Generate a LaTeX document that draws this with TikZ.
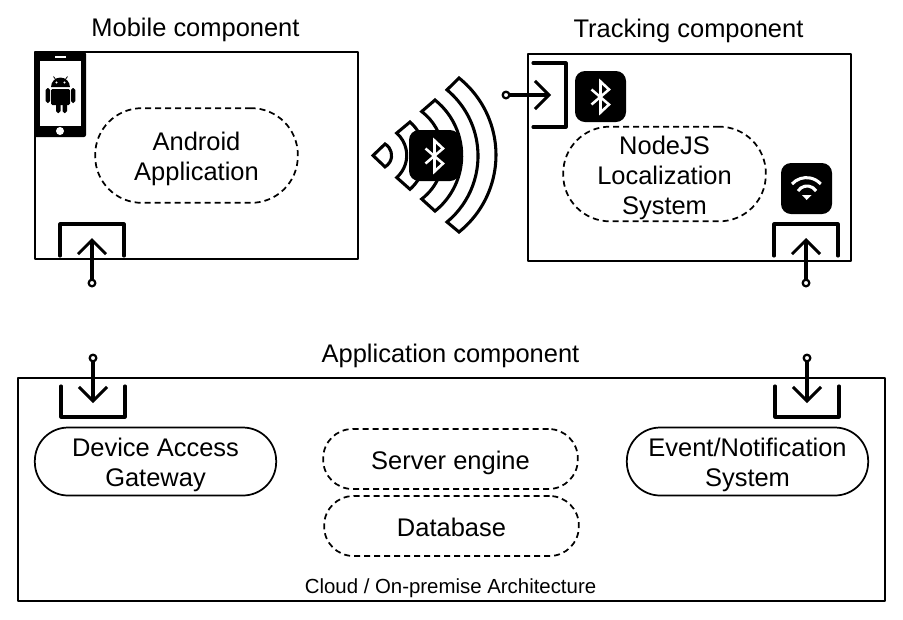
\documentclass[tikz,border=0pt]{standalone}
\usepackage{fontspec}
\setmainfont{Liberation Sans}
\usetikzlibrary{arrows.meta}
\tikzset{
	compbox/.style={draw, line width=1.5pt},
	pill/.style={draw, line width=1.3pt, rounded corners=#1, inner sep=0pt, align=center},
	dashpill/.style={pill=#1, dash pattern=on 4.5pt off 3pt},
	bigtext/.style={font=\fontsize{19.1}{22.5}\selectfont, align=center, execute at begin node={\rule[-4pt]{0pt}{23pt}}},
	bracket/.style={draw, line width=2.3pt, line cap=round},
	portdot/.style={circle, draw, fill=white, line width=1.7pt, minimum size=5pt, inner sep=0pt},
	portarrow/.style={draw, line width=2.3pt, -{Straight Barb[length=10.5pt, width=21pt, line width=2.2pt]}},
	wave/.style={draw, fill=white, line width=2.3pt, line join=miter},
	badge/.style={fill=black, rounded corners=7.5pt},
	btlogo/.pic={
		\fill[black, rounded corners=7.5pt] (-25.5,-25.5) rectangle (25.5,25.5);
		\draw[white, line width=1.9pt, line join=miter] (-9,-7) -- (8.5,8) -- (0,16) -- (0,-15) -- (8.5,-7) -- (-9,8);
	},
}
\begin{document}
\begin{tikzpicture}[x=0.75pt, y=-0.75pt, line join=round, >=stealth]
	\useasboundingbox (0,0) rectangle (903,619);
	%%%%%%%%%%%%%%%%%%%%%%%%%%%%%%%%%
	\coordinate (MobTip) at (92,238);
	\coordinate (TrkTip) at (806,238);
	\coordinate (SideTip) at (551,95);
	\coordinate (GateTip) at (93,403);
	\coordinate (EventTip) at (807,403);
	%%%%%%%%%%%%%%%%%%%%%%%%%%%%%%%%%
	\draw[compbox] (35,52) rectangle (358,259);
	\draw[compbox] (528,54) rectangle (851,261);
	\draw[compbox] (18,378) rectangle (885,601);
	%%%%%%%%%%%%%%%%%%%%%%%%%%%%%%%%%
	\node[bigtext] (mobtitle) at (195.5,26) {Mobile component};
	\node[bigtext] (trktitle) at (688.5,27) {Tracking component};
	\node[bigtext] (apptitle) at (450.5,352) {Application component};
	\node[font=\fontsize{15.3}{18}\selectfont] (cloud) at (450.5,588) {Cloud / On-premise Architecture};
	%%%%%%%%%%%%%%%%%%%%%%%%%%%%%%%%%
	\node[dashpill=35pt, minimum width=152pt, minimum height=71pt] (android) at (196.5,155.5) {};
	\node[bigtext, yshift=-2.6pt] (androidtext) at (android) {Android\\Application};
	\node[dashpill=35pt, minimum width=152pt, minimum height=71pt] (nodejs) at (664.5,174) {};
	\node[bigtext, yshift=-2.6pt] (nodejstext) at (nodejs) {NodeJS\\Localization\\System};
	\node[dashpill=22pt, bigtext, minimum width=191pt, minimum height=45pt] (server) at (450.5,459) {Server engine};
	\node[dashpill=22pt, bigtext, minimum width=191pt, minimum height=45pt] (database) at (451.5,526) {Database};
	\node[pill=25pt, minimum width=181pt, minimum height=51pt] (gateway) at (155.5,461.5) {};
	\node[bigtext, yshift=-2.6pt] (gatewaytext) at (gateway) {Device Access\\Gateway};
	\node[pill=25pt, minimum width=181pt, minimum height=51pt] (event) at (747.5,461.5) {};
	\node[bigtext, yshift=-2.6pt] (eventtext) at (event) {Event/Notification\\System};
	%%%%%%%%%%%%%%%%%%%%%%%%%%%%%%%%%
	\draw[bracket] (60,256) -- (60,224) -- (124,224) -- (124,256);
	\draw[bracket] (774,256) -- (774,224) -- (838,224) -- (838,256);
	\draw[bracket] (533,63) -- (566,63) -- (566,127) -- (533,127);
	\draw[bracket] (61,386) -- (61,417) -- (125,417) -- (125,386);
	\draw[bracket] (775,386) -- (775,417) -- (839,417) -- (839,386);
	\node[portdot] (mobport) at (92,283) {};
	\node[portdot] (trkport) at (806,283) {};
	\node[portdot] (sideport) at (506,95) {};
	\node[portdot] (gateport) at (93,358) {};
	\node[portdot] (eventport) at (807,358) {};
	\draw[portarrow] (mobport) -- (MobTip);
	\draw[portarrow] (trkport) -- (TrkTip);
	\draw[portarrow] (sideport) -- (SideTip);
	\draw[portarrow] (gateport) -- (GateTip);
	\draw[portarrow] (eventport) -- (EventTip);
	%%%%%%%%%%%%%%%%%%%%%%%%%%%%%%%%%
	% signal
	\draw[wave] (459,78) arc[start angle=51.3, end angle=-51.3, radius=74pt] -- (447,222) arc[start angle=-50.3, end angle=50.3, radius=64.4pt] -- cycle;
	\draw[wave] (435,100) arc[start angle=51.4, end angle=-51.4, radius=53.3pt] -- (421.7,199) arc[start angle=-52.6, end angle=52.6, radius=41.3pt] -- cycle;
	\draw[wave] (410,122) arc[start angle=48.3, end angle=-48.3, radius=33.8pt] -- (396.7,177.5) arc[start angle=-48.6, end angle=48.6, radius=22.2pt] -- cycle;
	\draw[wave] (385,144) arc[start angle=60, end angle=-60, radius=9.9pt] -- (373,155.5) -- cycle;
	\pic at (434.5,155.5) {btlogo};
	\pic at (600.5,96.5) {btlogo};
	%%%%%%%%%%%%%%%%%%%%%%%%%%%%%%%%%
	% wifi
	\fill[badge] (781,163) rectangle (832,214);
	\begin{scope}[white, line width=2.3pt]
		\draw (792,184) arc[start angle=138, end angle=42, radius=14.5pt];
		\draw (798,191) arc[start angle=148, end angle=32, radius=8pt];
	\end{scope}
	\fill[white] (802,195) -- (811.5,195) -- (806.7,200) -- cycle;
	%%%%%%%%%%%%%%%%%%%%%%%%%%%%%%%%%
	% phone
	\fill[black, rounded corners=1.5pt] (34,52) rectangle (86,137);
	\fill[white] (40,61) rectangle (81,126);
	\fill[white] (60,131) circle (3pt);
	\fill[white] (55,55.5) rectangle (66,58);
	% android
	\fill[black] (51,87) arc[start angle=180, end angle=0, radius=7.1pt] -- cycle;
	\fill[black, rounded corners=1pt] (51,89) rectangle (70,105);
	\fill[black, rounded corners=1.4pt] (45.7,88) rectangle (50,103);
	\fill[black, rounded corners=1.4pt] (71,88) rectangle (75.3,103);
	\fill[black, rounded corners=1.4pt] (56,100) rectangle (60.5,113);
	\fill[black, rounded corners=1.4pt] (62.5,100) rectangle (67,113);
	\draw[black, line width=0.6pt] (56,80) -- (53.5,76.5) (65,80) -- (67.5,76.5);
	\fill[white] (56.5,82.5) circle (0.9pt) (64.5,82.5) circle (0.9pt);
	%%%%%%%%%%%%%%%%%%%%%%%%%%%%%%%%%
\end{tikzpicture}
\end{document}
